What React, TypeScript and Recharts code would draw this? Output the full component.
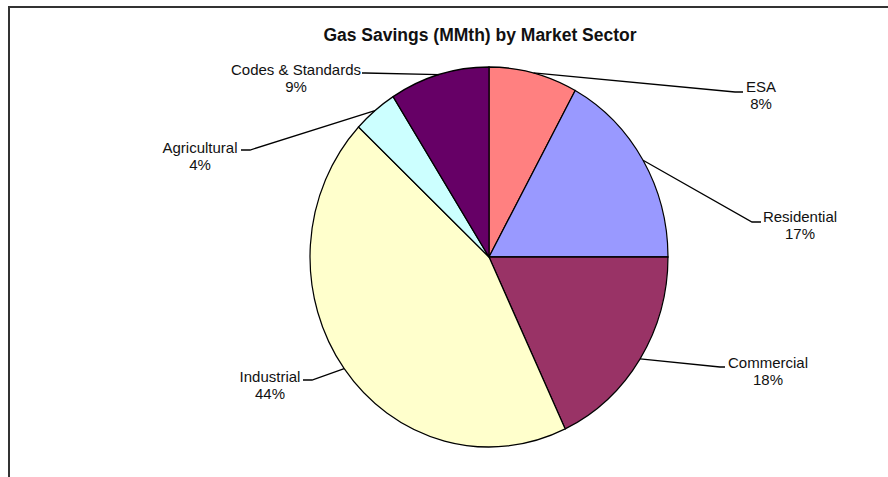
import React from "react";
import { PieChart, Pie, Cell } from "recharts";

// ---- data ----
const sectors = ["ESA", "Residential", "Commercial", "Industrial", "Agricultural", "Codes & Standards"];
const shares = [8, 17, 18, 44, 4, 9];
const colors = ["#FF8080", "#9999FF", "#993366", "#FFFFCC", "#CCFFFF", "#660066"];
const title = "Gas Savings (MMth) by Market Sector";

const data = sectors.map((name, i) => ({ name, value: shares[i] }));

// ---- layout (label placement relative to pie centre, not data) ----
const CX = 489;
const CY = 257;
const RY = 190;
const SX = 0.942; // horizontal squash of the pie (ellipse)
const labelLayout: Record<string, { tx: number; ty: number; elbow: [number, number]; end: [number, number] }> = {
  "ESA": { tx: 272, ty: -171, elbow: [246, -165], end: [254, -165] },
  "Residential": { tx: 311, ty: -41, elbow: [263, -35], end: [272, -35] },
  "Commercial": { tx: 279, ty: 105, elbow: [231, 110], end: [236, 110] },
  "Industrial": { tx: -219, ty: 119, elbow: [-177, 123], end: [-186, 123] },
  "Agricultural": { tx: -289, ty: -110, elbow: [-239, -107], end: [-248, -107] },
  "Codes & Standards": { tx: -193, ty: -188, elbow: [-124, -184], end: [-127, -184] },
};

const RADIAN = Math.PI / 180;
const FONT = "'Liberation Sans', Arial, sans-serif";

const renderLabel = (props: any) => {
  const { cx, cy, midAngle, outerRadius, name, percent } = props;
  const ax = cx + outerRadius * SX * Math.cos(-midAngle * RADIAN);
  const ay = cy + outerRadius * Math.sin(-midAngle * RADIAN);
  const l = labelLayout[name];
  const ex = cx + l.elbow[0];
  const ey = cy + l.elbow[1];
  const fx = cx + l.end[0];
  const fy = cy + l.end[1];
  const tx = cx + l.tx;
  const ty = cy + l.ty;
  return (
    <g>
      <polyline points={`${ax},${ay} ${ex},${ey} ${fx},${fy}`} fill="none" stroke="#000" strokeWidth={1.3} />
      <text x={tx} y={ty} textAnchor="middle" dominantBaseline="central" fontSize={15} fill="#111" fontFamily={FONT}>
        {name}
      </text>
      <text x={tx} y={ty + 17.5} textAnchor="middle" dominantBaseline="central" fontSize={15} fill="#111" fontFamily={FONT}>
        {`${Math.round(percent * 100)}%`}
      </text>
    </g>
  );
};

export default function App() {
  return (
    <div style={{ position: "absolute", left: 0, top: 0, width: 888, height: 477, background: "#fff", overflow: "hidden" }}>
      <style>{`.squash .recharts-pie-sector { transform: scaleX(${SX}); transform-origin: ${CX}px ${CY}px; transform-box: view-box; }`}</style>
      <div style={{ position: "absolute", left: 8, top: 6, width: 1000, height: 1000, borderTop: "2px solid #333", borderLeft: "2px solid #333" }} />
      <div className="squash" style={{ position: "absolute", left: 0, top: 0 }}>
        <PieChart width={888} height={477} margin={{ top: 0, right: 0, bottom: 0, left: 0 }}>
          <text x={480} y={35} textAnchor="middle" dominantBaseline="central" fontSize={17.5} fontWeight="bold" fill="#111" fontFamily={FONT}>
            {title}
          </text>
          <Pie
            data={data}
            dataKey="value"
            nameKey="name"
            cx={CX}
            cy={CY}
            outerRadius={RY}
            startAngle={90}
            endAngle={-270}
            stroke="#000"
            strokeWidth={1.3}
            label={renderLabel}
            labelLine={false}
            isAnimationActive={false}
          >
            {data.map((d, i) => (
              <Cell key={d.name} fill={colors[i]} />
            ))}
          </Pie>
        </PieChart>
      </div>
    </div>
  );
}
